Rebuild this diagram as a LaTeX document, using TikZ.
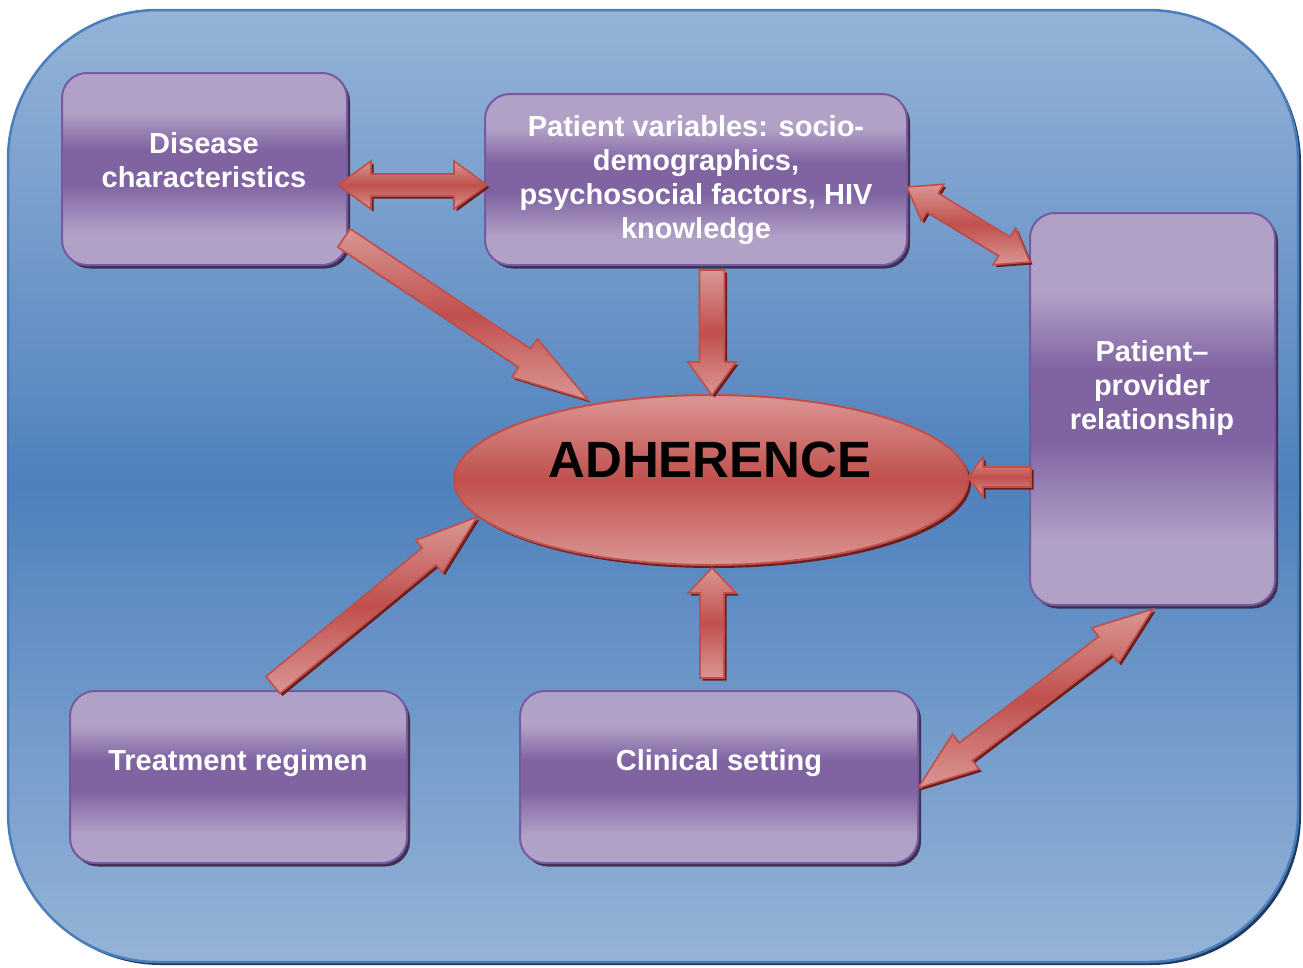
\documentclass[tikz,border=0pt]{standalone}
\usepackage{fontspec}
\setmainfont{Liberation Sans}
\usetikzlibrary{shapes.geometric,shadows,calc}
\definecolor{bgl}{HTML}{95B3D7}
\definecolor{bgd}{HTML}{4F81BD}
\definecolor{bgborder}{HTML}{4A7EBB}
\definecolor{bgshadow}{HTML}{1F3A60}
\definecolor{bxl}{HTML}{B2A1C7}
\definecolor{bxd}{HTML}{8064A2}
\definecolor{bxborder}{HTML}{7659A0}
\definecolor{bxshadow}{HTML}{3F3151}
\definecolor{rdl}{HTML}{DA9694}
\definecolor{rdd}{HTML}{C0504D}
\definecolor{rdborder}{HTML}{C24E4A}
\definecolor{rdshadow}{HTML}{6B1F1D}
\pgfdeclareverticalshading{bgshade}{100bp}{color(0bp)=(bgl); color(25bp)=(bgl); color(50bp)=(bgd); color(75bp)=(bgl); color(100bp)=(bgl)}
\pgfdeclareverticalshading{boxshade}{100bp}{color(0bp)=(bxl); color(25bp)=(bxl); color(33bp)=(bxl); color(46bp)=(bxd); color(55bp)=(bxd); color(65bp)=(bxl); color(75bp)=(bxl); color(100bp)=(bxl)}
\pgfdeclareverticalshading{redshade}{100bp}{color(0bp)=(rdl); color(25bp)=(rdl); color(50bp)=(rdd); color(75bp)=(rdl); color(100bp)=(rdl)}
\newcommand{\BlockArrowS}[5]{%
  \coordinate (bac) at ($(#2)!#5!(#1)$);
  \path[blockarrow] ($(#1)!#3!90:(#2)$) -- ($(bac)!#3!90:(#2)$) -- ($(bac)!#4!90:(#2)$) -- (#2) -- ($(bac)!#4!-90:(#2)$) -- ($(bac)!#3!-90:(#2)$) -- ($(#1)!#3!-90:(#2)$) -- cycle;
}
\newcommand{\BlockArrowD}[5]{%
  \coordinate (bac) at ($(#1)!#5!(#2)$);
  \coordinate (bad) at ($(#2)!#5!(#1)$);
  \path[blockarrow] (#1) -- ($(bac)!#4!90:(#2)$) -- ($(bac)!#3!90:(#2)$) -- ($(bad)!#3!-90:(#1)$) -- ($(bad)!#4!-90:(#1)$) -- (#2) -- ($(bad)!#4!90:(#1)$) -- ($(bad)!#3!90:(#1)$) -- ($(bac)!#3!-90:(#2)$) -- ($(bac)!#4!-90:(#2)$) -- cycle;
}
\tikzset{
  bgpanel/.style={shade, shading=bgshade, draw=bgborder, line width=2.5pt, rounded corners=150pt,
    drop shadow={shadow xshift=3pt, shadow yshift=-3pt, fill=bgshadow, opacity=1}},
  box/.style={rectangle, rounded corners=25pt, draw=bxborder, line width=2pt, shade, shading=boxshade,
    inner sep=0pt, drop shadow={shadow xshift=3pt, shadow yshift=-3.5pt, fill=bxshadow, opacity=1}},
  lbl/.style={text=white, align=center, inner sep=0pt, font=\bfseries\fontsize{29}{34}\selectfont},
  adhnode/.style={ellipse, inner sep=0pt, shade, shading=redshade, draw=rdborder, line width=2pt,
    drop shadow={shadow xshift=3pt, shadow yshift=-3pt, fill=rdshadow, opacity=1}},
  blockarrow/.style={shade, shading=redshade, draw=rdborder, line width=1.6pt, line join=miter,
    drop shadow={shadow xshift=2.5pt, shadow yshift=-2.5pt, fill=rdshadow, opacity=1}}
}
\begin{document}
\begin{tikzpicture}[x=1pt,y=-1pt]
\useasboundingbox (0,0) rectangle (1303,967);
\path[bgpanel] (8,10) rectangle (1298,962);
% boxes
\node[box, minimum width=285pt, minimum height=192pt] (dis) at (204.5,169) {};
\node[box, minimum width=422pt, minimum height=171pt] (pv) at (696,179.5) {};
\node[box, minimum width=245pt, minimum height=392pt] (pp) at (1152.5,409) {};
\node[box, minimum width=337pt, minimum height=172pt] (tr) at (238.5,777) {};
\node[box, minimum width=398pt, minimum height=172pt] (cs) at (719,777) {};
\node[lbl] (dist) at (204,160.5) {Disease\\characteristics};
\node[lbl] (pvt) at (696,180.5) {Patient variables: socio-\\demographics,\\psychosocial factors, HIV\\knowledge};
\node[lbl] (ppt) at (1152,388) {Patient–\\provider\\relationship};
\node[lbl] (trt) at (238,763) {Treatment regimen};
\node[lbl] (cst) at (719,763) {Clinical setting};
% ellipse
\node[adhnode, minimum width=514pt, minimum height=170pt] (adh) at (711,480) {};
\node[font=\bfseries\fontsize{51}{61}\selectfont, inner sep=0pt] (adht) at (710,460) {ADHERENCE};
% arrow end points
\coordinate (a1s) at (338,185);  \coordinate (a1e) at (487,185);
\coordinate (a2s) at (344,238);  \coordinate (a2e) at (588,400);
\coordinate (a3s) at (712,270);  \coordinate (a3e) at (712,395);
\coordinate (a4s) at (907,187);  \coordinate (a4e) at (1030,262);
\coordinate (a5s) at (1031,477); \coordinate (a5e) at (968,477);
\coordinate (a6s) at (273,685);  \coordinate (a6e) at (477,517);
\coordinate (a7s) at (712,678);  \coordinate (a7e) at (712,568);
\coordinate (a8s) at (918,788);  \coordinate (a8e) at (1153,609);
% arrows
\BlockArrowD{a1s}{a1e}{11pt}{24pt}{33pt}
\BlockArrowS{a2s}{a2e}{11pt}{23pt}{76pt}
\BlockArrowS{a3s}{a3e}{12.5pt}{24pt}{33pt}
\BlockArrowD{a4s}{a4e}{11pt}{21.5pt}{30pt}
\BlockArrowS{a5s}{a5e}{10pt}{20pt}{15pt}
\BlockArrowS{a6s}{a6e}{11pt}{21pt}{62pt}
\BlockArrowS{a7s}{a7e}{12pt}{24pt}{25pt}
\BlockArrowD{a8s}{a8e}{11pt}{22pt}{60pt}
\end{tikzpicture}
\end{document}
